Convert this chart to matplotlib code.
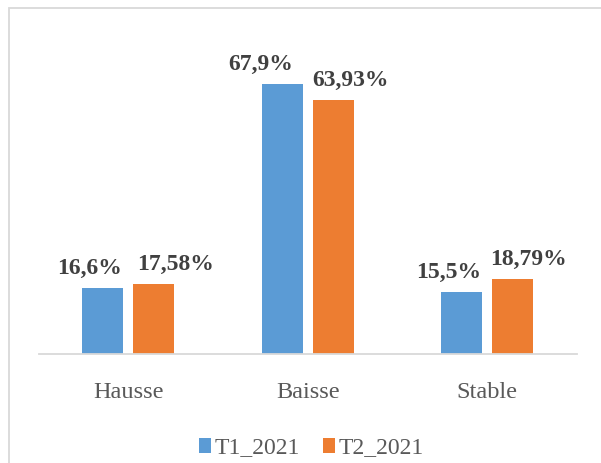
import matplotlib
matplotlib.use("Agg")
import matplotlib.pyplot as plt
import matplotlib.patches as mpatches
from matplotlib.transforms import offset_copy
import numpy as np

categories = ["Hausse", "Baisse", "Stable"]
series_names = ["T1_2021", "T2_2021"]
t1_values = [16.6, 67.9, 15.5]
t2_values = [17.58, 63.93, 18.79]
t1_labels = ["16,6%", "67,9%", "15,5%"]
t2_labels = ["17,58%", "63,93%", "18,79%"]

plt.rcParams['font.family'] = ['Liberation Serif', 'DejaVu Serif']

W, H = 601, 463
fig = plt.figure(figsize=(W / 100, H / 100), dpi=100)
fig.patch.set_facecolor("white")

# outer border (extends beyond right/bottom edges)
border = mpatches.Rectangle((8.5 / W, -0.05), 1.2, (H - 7.5) / H + 0.05,
                            transform=fig.transFigure, fill=False,
                            edgecolor="#D9D9D9", linewidth=1.3, zorder=0)
fig.patches.append(border)

ax = fig.add_axes([38.5 / W, 109 / H, 538.5 / W, 298 / H])
ax.set_xlim(-0.5, 2.5)
ax.set_ylim(0, 75)

x = np.arange(len(categories))
bw = 0.228
off = 0.142
c1, c2 = "#5B9BD5", "#ED7D31"
b1 = ax.bar(x - off, t1_values, bw, color=c1, label=series_names[0], zorder=2)
b2 = ax.bar(x + off, t2_values, bw, color=c2, label=series_names[1], zorder=2)

lab_kw = dict(fontsize=17, fontweight="bold", color="#404040", va="baseline")
t1_dx = [-13.5, -22, -13]
t2_dx = [21.5, 17.5, 15.5]
for i in range(len(categories)):
    tr = offset_copy(ax.transData, fig=fig, x=t1_dx[i], y=14, units="dots")
    ax.text(x[i] - off, t1_values[i], t1_labels[i], ha="center", transform=tr, **lab_kw)
    tr = offset_copy(ax.transData, fig=fig, x=t2_dx[i], y=14, units="dots")
    ax.text(x[i] + off, t2_values[i], t2_labels[i], ha="center", transform=tr, **lab_kw)

for s in ["top", "right", "left"]:
    ax.spines[s].set_visible(False)
ax.spines["bottom"].set_color("#D9D9D9")
ax.spines["bottom"].set_linewidth(1.3)
ax.set_yticks([])
ax.set_xticks(x)
ax.set_xticklabels(categories, fontsize=17.5, color="#595959")
ax.tick_params(axis="x", length=0, pad=20)

leg = fig.legend(handles=[b1, b2], labels=series_names, loc="center",
                 bbox_to_anchor=(311.5 / W, 1 - 448 / H), ncol=2, frameon=False,
                 fontsize=17, handlelength=0.5, handleheight=0.6,
                 handletextpad=0.15, columnspacing=1.0, borderpad=0)
for t in leg.get_texts():
    t.set_color("#595959")

fig.savefig("out.png", dpi=100, facecolor="white")
